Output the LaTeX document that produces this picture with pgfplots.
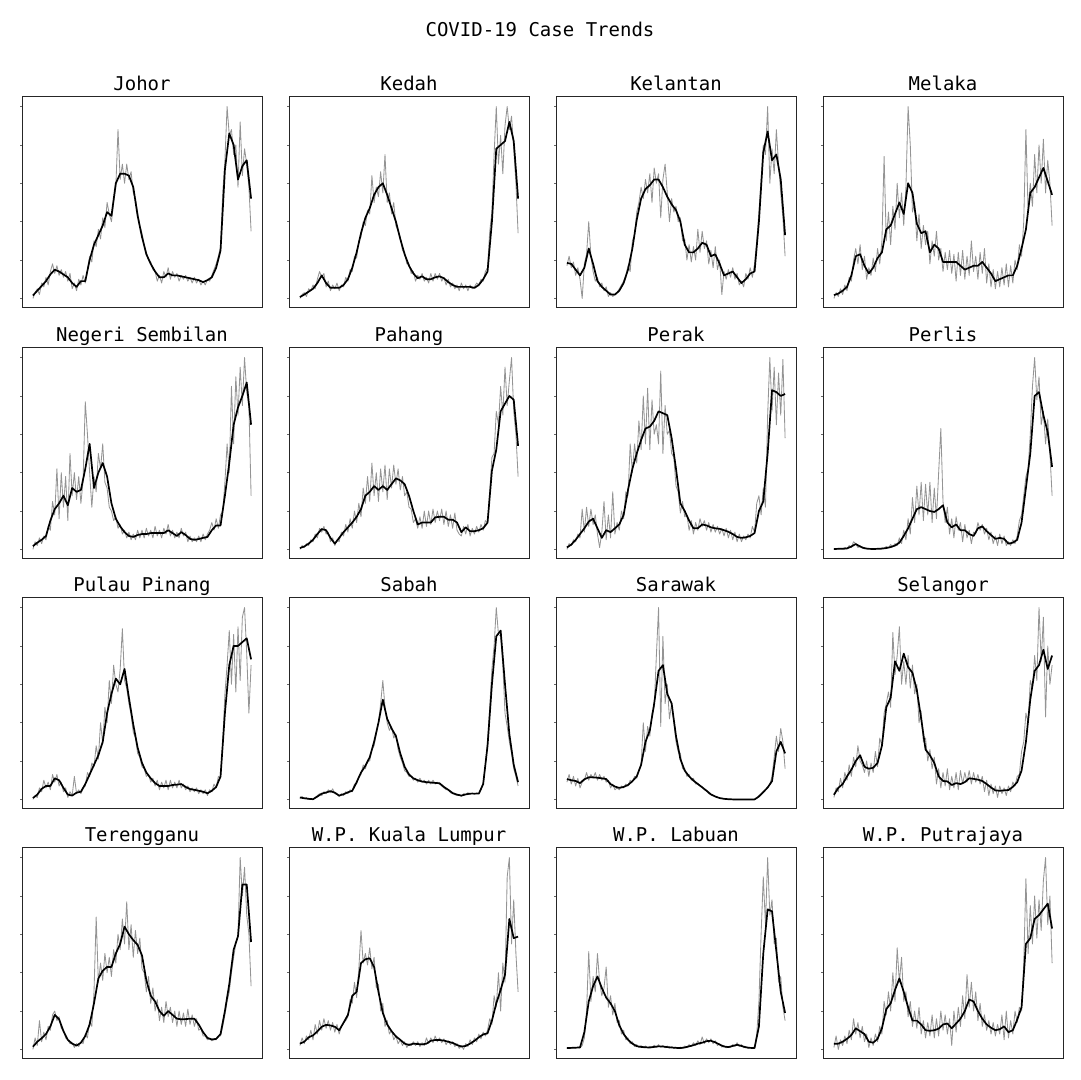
\documentclass[border=0pt]{standalone}
\usepackage{pgfplots}
\pgfplotsset{compat=1.18}
\usepackage{fontspec}
\newfontfamily\mono{DejaVu Sans Mono}
\pgfplotsset{
  panel/.style={scale only axis, width=120pt, height=105.5pt, anchor=south west,
    xmin=-5, xmax=105, ymin=-5, ymax=105, xtick=\empty,
    ytick={0,20,40,60,80,100}, yticklabels={}, ytick pos=left,
    tick align=outside, major tick length=1pt,
    every tick/.style={black!60, line width=0.4pt},
    axis line style={black!85, line width=0.5pt},
    every axis title/.style={at={(0.5,1)}, anchor=base, yshift=3pt, font=\mono\fontsize{9.5}{11}\selectfont}},
  gl/.style={color=black!42, line width=0.42pt, line join=round},
  bl/.style={black, line width=0.85pt, line join=round}
}
\begin{document}
\begin{tikzpicture}
\path[use as bounding box] (0,0) rectangle (540pt,540pt);
\node[anchor=base, font=\mono\fontsize{9.5}{11}\selectfont] at (270pt,521.5pt) {COVID-19 Case Trends};

% Johor
\begin{axis}[panel, at={(11pt,386pt)}, title={Johor}]
\addplot[gl] table[x expr=\coordindex, y index=0, header=false, row sep=\\] {0\\3\\5\\2\\8\\6\\11\\7\\14\\18\\ 13\\17\\12\\15\\11\\14\\9\\13\\5\\8\\ 4\\10\\7\\12\\8\\15\\22\\19\\30\\27\\ 36\\31\\42\\37\\50\\44\\40\\50\\58\\88\\ 62\\70\\60\\70\\62\\66\\55\\52\\45\\38\\ 34\\28\\24\\20\\19\\15\\14\\9\\12\\8\\ 14\\11\\16\\10\\14\\11\\13\\9\\12\\10\\ 12\\9\\11\\8\\11\\8\\10\\7\\9\\7\\ 10\\9\\12\\15\\18\\22\\27\\55\\72\\100\\ 85\\88\\75\\80\\58\\92\\64\\78\\70\\58\\ 35\\};
\addplot[bl] table[x expr=2*\coordindex, y index=0, header=false, row sep=\\] {1.5\\4\\6.5\\9\\12.5\\15\\14\\12.5\\11\\8\\ 6\\9\\9\\20\\28\\33\\38\\45\\43\\60\\ 65\\65\\64\\58\\43\\32\\23\\18\\14\\11\\ 11\\13\\12\\12\\11.5\\11\\10.5\\10\\9.5\\8.5\\ 9.5\\11\\16\\25\\67\\86\\80\\62\\69\\72\\ 52\\};
\end{axis}

% Kedah
\begin{axis}[panel, at={(144.5pt,386pt)}, title={Kedah}]
\addplot[gl] table[x expr=\coordindex, y index=0, header=false, row sep=\\] {0\\2\\3\\1\\5\\4\\7\\5\\10\\14\\ 11\\13\\6\\9\\4\\7\\5\\8\\4\\7\\ 6\\11\\9\\15\\14\\22\\21\\30\\32\\40\\ 38\\46\\44\\64\\50\\58\\53\\66\\55\\75\\ 50\\55\\44\\50\\38\\35\\32\\25\\24\\18\\ 18\\13\\14\\9\\12\\10\\13\\9\\11\\8\\ 13\\9\\13\\10\\13\\9\\11\\7\\10\\6\\ 8\\5\\7\\4\\8\\5\\7\\4\\7\\5\\ 6\\8\\7\\10\\9\\14\\16\\35\\45\\75\\ 100\\70\\85\\65\\90\\100\\88\\95\\78\\60\\ 34\\};
\addplot[bl] table[x expr=2*\coordindex, y index=0, header=false, row sep=\\] {0.7\\2\\3.5\\5\\8\\12\\8\\5.5\\5.5\\5.5\\ 7\\10\\16\\24\\34\\42\\47\\54\\58\\60\\ 54\\47\\40\\31\\23\\17\\13\\10.5\\11.5\\10\\ 10\\11\\11.5\\10.5\\8.5\\7\\6\\6\\6\\6\\ 5.5\\7\\10\\14\\40\\78\\80\\82\\92\\82\\ 52\\};
\end{axis}

% Kelantan
\begin{axis}[panel, at={(278pt,386pt)}, title={Kelantan}]
\addplot[gl] table[x expr=\coordindex, y index=0, header=false, row sep=\\] {17\\22\\16\\19\\12\\16\\10\\0\\18\\23\\ 40\\22\\14\\9\\11\\6\\8\\4\\6\\1\\ 3\\1\\2\\3\\5\\7\\9\\12\\17\\14\\ 30\\33\\45\\50\\58\\52\\62\\55\\65\\50\\ 68\\60\\65\\42\\62\\70\\55\\40\\52\\45\\ 48\\40\\42\\30\\31\\20\\28\\19\\27\\20\\ 36\\24\\35\\26\\30\\18\\25\\16\\27\\15\\ 20\\2\\14\\10\\15\\11\\16\\10\\13\\7\\ 9\\6\\13\\10\\16\\11\\18\\30\\45\\62\\ 80\\75\\100\\60\\78\\65\\88\\70\\55\\42\\ 22\\};
\addplot[bl] table[x expr=2*\coordindex, y index=0, header=false, row sep=\\] {18.5\\18\\15\\12\\16\\26\\18\\9\\6\\4\\ 2\\2\\4\\8\\15\\26\\41\\52\\57\\59\\ 62\\62\\58\\53\\49\\46\\40\\28\\24\\24\\ 26\\29\\28\\22\\23\\18\\12\\13\\14\\11\\ 8\\10\\13\\14\\40\\76\\87\\72\\75\\62\\ 33\\};
\end{axis}

% Melaka
\begin{axis}[panel, at={(411.5pt,386pt)}, title={Melaka}]
\addplot[gl] table[x expr=\coordindex, y index=0, header=false, row sep=\\] {0\\3\\1\\5\\2\\7\\4\\11\\9\\20\\ 26\\18\\28\\15\\22\\10\\16\\12\\21\\14\\ 26\\18\\30\\74\\30\\45\\28\\48\\36\\60\\ 42\\55\\38\\58\\100\\80\\45\\50\\30\\44\\ 26\\38\\28\\35\\18\\30\\22\\35\\20\\26\\ 14\\24\\15\\25\\13\\23\\9\\24\\12\\25\\ 10\\22\\12\\30\\14\\22\\10\\24\\13\\26\\ 8\\18\\6\\15\\5\\14\\6\\16\\7\\18\\ 6\\17\\8\\20\\15\\28\\22\\40\\88\\45\\ 60\\48\\75\\55\\80\\60\\83\\55\\72\\60\\ 38\\};
\addplot[bl] table[x expr=2*\coordindex, y index=0, header=false, row sep=\\] {1.7\\2.5\\4\\6\\12\\22\\23\\17\\13\\16\\ 21\\24\\36\\38\\44\\50\\44\\60\\55\\39\\ 34\\35\\24\\28\\26\\19\\19\\19\\19\\17\\ 15\\16\\17\\17\\19\\16\\13\\9\\10\\11\\ 12\\12\\17\\26\\36\\55\\58\\63\\68\\61\\ 54\\};
\end{axis}

% Negeri Sembilan
\begin{axis}[panel, at={(11pt,260.5pt)}, title={Negeri Sembilan}]
\addplot[gl] table[x expr=\coordindex, y index=0, header=false, row sep=\\] {0\\4\\2\\6\\3\\7\\5\\12\\10\\25\\ 18\\42\\16\\40\\22\\38\\15\\50\\28\\40\\ 26\\38\\24\\36\\77\\60\\40\\22\\38\\30\\ 50\\42\\55\\35\\32\\22\\20\\15\\17\\11\\ 13\\8\\10\\6\\9\\5\\8\\5\\10\\6\\ 10\\6\\11\\7\\10\\6\\12\\7\\10\\6\\ 11\\8\\13\\7\\10\\6\\9\\6\\11\\7\\ 9\\4\\7\\4\\6\\4\\7\\4\\8\\5\\ 8\\10\\14\\10\\16\\11\\18\\20\\35\\55\\ 40\\85\\55\\90\\70\\95\\75\\100\\82\\75\\ 28\\};
\addplot[bl] table[x expr=2*\coordindex, y index=0, header=false, row sep=\\] {1.7\\3.5\\5\\7\\15\\21\\24\\28\\23\\32\\ 30\\31\\42\\55\\32\\40\\45\\38\\24\\16\\ 12\\9\\7\\6.5\\7.5\\8\\8\\8.5\\8.5\\8.5\\ 8.5\\10\\8.5\\7\\9\\7.5\\5.5\\5\\5.4\\6\\ 6.5\\10\\12.5\\12.5\\28\\45\\65\\74\\80\\87\\ 65\\};
\end{axis}

% Pahang
\begin{axis}[panel, at={(144.5pt,260.5pt)}, title={Pahang}]
\addplot[gl] table[x expr=\coordindex, y index=0, header=false, row sep=\\] {0\\2\\1\\3\\2\\5\\4\\8\\6\\11\\ 9\\12\\8\\9\\4\\6\\2\\5\\4\\9\\ 7\\13\\9\\16\\11\\20\\14\\24\\17\\32\\ 24\\38\\25\\45\\28\\40\\25\\42\\30\\44\\ 26\\42\\32\\44\\34\\42\\31\\38\\28\\30\\ 22\\21\\14\\16\\11\\17\\11\\20\\12\\20\\ 13\\21\\14\\20\\15\\21\\13\\20\\12\\18\\ 11\\19\\10\\8\\7\\12\\8\\13\\7\\11\\ 8\\12\\9\\13\\10\\15\\14\\30\\48\\50\\ 72\\65\\85\\70\\95\\75\\88\\100\\72\\60\\ 38\\};
\addplot[bl] table[x expr=2*\coordindex, y index=0, header=false, row sep=\\] {0.7\\1.5\\3\\5\\8\\10.6\\10\\6\\3\\6\\ 9\\11.5\\14\\17\\21\\28\\30\\33\\31\\33\\ 31\\34\\37\\36\\34\\28\\20\\13\\14\\14\\ 14\\16.7\\17\\17\\15.5\\15.5\\14\\9\\11.5\\9.5\\ 9.5\\10\\11\\14\\41\\52\\72\\76\\80\\78\\ 54\\};
\end{axis}

% Perak
\begin{axis}[panel, at={(278pt,260.5pt)}, title={Perak}]
\addplot[gl] table[x expr=\coordindex, y index=0, header=false, row sep=\\] {0\\3\\2\\5\\4\\8\\6\\21\\9\\22\\ 12\\21\\13\\18\\8\\1\\9\\25\\5\\18\\ 6\\30\\8\\14\\10\\20\\16\\30\\28\\55\\ 40\\55\\45\\67\\52\\80\\55\\84\\52\\78\\ 60\\65\\55\\93\\50\\75\\60\\62\\50\\48\\ 33\\30\\19\\25\\17\\18\\10\\15\\8\\14\\ 10\\16\\12\\15\\10\\14\\9\\13\\9\\12\\ 8\\11\\7\\11\\6\\10\\5\\9\\4\\8\\ 4\\7\\5\\8\\6\\12\\9\\24\\28\\18\\ 32\\22\\70\\100\\72\\95\\65\\92\\70\\99\\ 58\\};
\addplot[bl] table[x expr=2*\coordindex, y index=0, header=false, row sep=\\] {1\\2.5\\5\\8\\11\\14.5\\16\\11\\6\\10\\ 9\\11\\13\\18\\31\\42\\50\\57\\63\\64\\ 67\\72\\71\\70\\58\\42\\24\\20\\15\\11\\ 11\\13\\12.5\\11.5\\11\\10.7\\10\\9.2\\8\\6.5\\ 6\\6.3\\7\\8.5\\20\\25\\50\\83\\82\\80\\ 81\\};
\end{axis}

% Perlis
\begin{axis}[panel, at={(411.5pt,260.5pt)}, title={Perlis}]
\addplot[gl] table[x expr=\coordindex, y index=0, header=false, row sep=\\] {0\\0.4\\0.2\\0.5\\0.3\\1\\0.5\\2\\1\\4\\ 3\\1\\2\\0.5\\1\\0.2\\0.5\\0.2\\0.4\\0.2\\ 0.5\\0.3\\0.8\\0.5\\1.5\\0.8\\2.5\\1.5\\3\\2\\ 6\\3\\10\\5\\16\\8\\27\\14\\33\\18\\ 35\\15\\34\\18\\35\\14\\32\\16\\40\\63\\ 25\\14\\22\\8\\16\\6\\17\\10\\14\\4\\ 13\\6\\10\\3\\9\\8\\14\\10\\13\\8\\ 11\\5\\9\\3\\7\\2\\8\\3\\7\\2\\ 4\\2\\5\\3\\7\\15\\18\\28\\38\\42\\ 60\\85\\100\\78\\90\\65\\72\\55\\68\\50\\ 28\\};
\addplot[bl] table[x expr=2*\coordindex, y index=0, header=false, row sep=\\] {0.2\\0.3\\0.3\\0.5\\1.5\\2.8\\1.5\\0.6\\0.3\\0.2\\ 0.3\\0.4\\0.7\\1.2\\2\\3.5\\7\\11\\16\\21\\ 22\\21\\20\\19.5\\21\\23\\14\\11.5\\13\\10\\ 10\\8\\7\\11\\12\\9.5\\7.5\\5.5\\6\\5.5\\ 3\\3.5\\5\\14\\32\\50\\80\\82\\70\\61\\ 43\\};
\end{axis}

% Pulau Pinang
\begin{axis}[panel, at={(11pt,135.5pt)}, title={Pulau Pinang}]
\addplot[gl] table[x expr=\coordindex, y index=0, header=false, row sep=\\] {0\\2\\1\\6\\4\\10\\6\\9\\5\\13\\ 9\\13\\7\\9\\4\\6\\1\\4\\2\\12\\ 3\\5\\3\\6\\7\\14\\12\\19\\17\\28\\ 21\\40\\29\\48\\40\\62\\50\\70\\60\\56\\ 68\\89\\62\\58\\50\\44\\35\\32\\24\\22\\ 17\\16\\12\\13\\9\\11\\7\\10\\5\\9\\ 6\\10\\5\\10\\6\\9\\6\\10\\6\\8\\ 5\\7\\4\\6\\4\\6\\3\\5\\3\\5\\ 2\\5\\4\\8\\6\\12\\11\\30\\55\\70\\ 88\\60\\86\\56\\90\\62\\95\\100\\76\\45\\ 70\\};
\addplot[bl] table[x expr=2*\coordindex, y index=0, header=false, row sep=\\] {0.7\\2.5\\5.5\\7\\7\\11\\10\\6\\2.5\\2\\ 3.5\\4\\8\\13\\18\\23\\30\\45\\55\\63\\ 60\\68\\53\\39\\27\\19\\14\\11\\8.5\\7\\ 7\\7\\7.5\\7.7\\8\\6.5\\5.4\\5\\4.5\\4\\ 3.2\\4.5\\6.5\\12\\45\\70\\80\\80\\82\\84\\ 73\\};
\end{axis}

% Sabah
\begin{axis}[panel, at={(144.5pt,135.5pt)}, title={Sabah}]
\addplot[gl] table[x expr=\coordindex, y index=0, header=false, row sep=\\] {0.5\\1.5\\0.3\\1\\0\\0.5\\0\\1\\2\\3\\ 2\\4\\3\\5\\3.5\\5.5\\3\\2.5\\1.5\\3\\ 2\\4\\3\\5\\4\\8\\8\\12\\13\\18\\ 16\\20\\20\\26\\28\\34\\40\\50\\62\\48\\ 40\\36\\38\\32\\34\\26\\22\\19\\15\\14\\ 12\\12\\10\\11\\9\\11\\9\\10\\8\\10\\ 8\\10\\8\\9\\8\\7\\6\\5\\5\\3.5\\ 3\\2.5\\2\\2.5\\1.5\\3\\2.5\\3.5\\2.5\\3.5\\ 2.5\\3.5\\3\\5\\9\\18\\30\\48\\68\\80\\ 100\\86\\85\\70\\45\\38\\30\\24\\16\\12\\ 7\\};
\addplot[bl] table[x expr=2*\coordindex, y index=0, header=false, row sep=\\] {1\\0.6\\0.3\\0.1\\1.5\\3\\3.6\\4.3\\3.5\\2\\ 2.7\\3.7\\4.5\\9\\14\\17.5\\22\\30\\40\\52\\ 42\\37\\33\\24\\17\\13\\11\\10\\9.3\\9\\ 8.8\\8.6\\8.4\\6.5\\5\\3.3\\2.5\\2\\2.6\\3\\ 3\\3\\8\\28\\60\\85\\88\\60\\34\\18\\ 9\\};
\end{axis}

% Sarawak
\begin{axis}[panel, at={(278pt,135.5pt)}, title={Sarawak}]
\addplot[gl] table[x expr=\coordindex, y index=0, header=false, row sep=\\] {9\\13\\8\\12\\7\\11\\6\\9\\10\\14\\ 10\\13\\11\\14\\10\\13\\10\\12\\9\\10\\ 6\\8\\5\\6\\5\\7\\6\\8\\7\\10\\ 9\\12\\11\\15\\18\\40\\25\\38\\33\\45\\ 48\\75\\100\\38\\85\\50\\60\\42\\50\\40\\ 30\\25\\24\\16\\16\\12\\13\\10\\11\\8\\ 8.5\\7\\6.5\\5\\4.5\\3\\2.8\\2\\1.5\\1\\ 0.8\\0.5\\0.3\\0.2\\0.1\\0\\0\\0\\0\\0\\ 0\\0\\0\\0\\0\\0\\0\\0.5\\2\\2.5\\ 4\\5\\6\\8\\12\\22\\33\\25\\37\\30\\ 16\\};
\addplot[bl] table[x expr=2*\coordindex, y index=0, header=false, row sep=\\] {10.6\\10\\9.6\\8.5\\10.5\\11.5\\11.5\\11.3\\11\\10.6\\ 8\\6.7\\6\\6.5\\7.5\\9.5\\12\\18\\30\\36\\ 50\\67\\70\\55\\50\\33\\21\\15\\12\\9.8\\ 8\\6.3\\4.5\\2.6\\1.5\\0.7\\0.3\\0.1\\0\\0\\ 0\\0\\0\\0\\1.5\\3.8\\6.2\\9.5\\25\\30\\ 24\\};
\end{axis}

% Selangor
\begin{axis}[panel, at={(411.5pt,135.5pt)}, title={Selangor}]
\addplot[gl] table[x expr=\coordindex, y index=0, header=false, row sep=\\] {1\\6\\4\\11\\6\\14\\10\\18\\12\\22\\ 17\\28\\20\\18\\14\\20\\12\\19\\14\\25\\ 17\\32\\28\\45\\50\\56\\48\\87\\65\\75\\ 90\\60\\72\\60\\75\\58\\70\\55\\60\\40\\ 46\\30\\32\\20\\26\\16\\22\\8\\16\\6\\ 14\\7\\16\\5\\12\\6\\14\\5\\15\\8\\ 14\\9\\15\\8\\14\\9\\13\\8\\12\\4\\ 10\\2\\8\\3\\7\\1\\7\\3\\6\\2\\ 7\\4\\9\\7\\12\\13\\25\\30\\45\\40\\ 62\\58\\75\\62\\100\\72\\95\\43\\80\\60\\ 70\\};
\addplot[bl] table[x expr=2*\coordindex, y index=0, header=false, row sep=\\] {2.4\\6\\8\\12\\15.5\\20\\23\\17\\16\\16.5\\ 19\\28\\48\\53\\72\\67\\76\\69\\66\\57\\ 42\\26\\23\\19\\12\\9.6\\9.4\\7.5\\8.5\\8\\ 9\\11\\10.7\\10.3\\9.6\\8\\6.2\\4.7\\4.5\\4.7\\ 4.9\\6.5\\9\\15\\30\\52\\67\\70\\78\\68\\ 75\\};
\end{axis}

% Terengganu
\begin{axis}[panel, at={(11pt,10.5pt)}, title={Terengganu}]
\addplot[gl] table[x expr=\coordindex, y index=0, header=false, row sep=\\] {0\\6\\2\\15\\4\\9\\5\\12\\10\\18\\ 20\\15\\17\\11\\10\\6\\5\\3\\3.5\\1\\ 3\\1.5\\4\\3\\8\\6\\15\\12\\30\\69\\ 35\\45\\36\\50\\40\\48\\38\\52\\45\\60\\ 52\\68\\55\\77\\52\\65\\48\\62\\50\\58\\ 42\\40\\30\\38\\24\\32\\20\\26\\15\\22\\ 14\\25\\17\\22\\14\\20\\12\\20\\13\\19\\ 12\\21\\13\\18\\12\\16\\10\\11\\7\\7\\ 5\\5.5\\4.5\\5\\5\\7\\7\\12\\18\\25\\ 30\\40\\48\\55\\60\\100\\80\\95\\70\\60\\ 33\\};
\addplot[bl] table[x expr=2*\coordindex, y index=0, header=false, row sep=\\] {1.4\\4\\5.8\\8\\12\\18\\15.7\\9.5\\5\\3\\ 2\\3.5\\7\\13\\24\\37\\41\\43\\43\\50\\ 55\\64\\60\\57\\54.5\\49\\36\\28\\25\\20\\ 17.5\\20\\18\\16\\15.7\\15.8\\16\\16\\13\\9\\ 6\\5.2\\5.5\\8\\20\\34\\52\\59\\86\\86\\ 56\\};
\end{axis}

% W.P. Kuala Lumpur
\begin{axis}[panel, at={(144.5pt,10.5pt)}, title={W.P. Kuala Lumpur}]
\addplot[gl] table[x expr=\coordindex, y index=0, header=false, row sep=\\] {2\\6\\3\\7\\5\\10\\5\\13\\8\\15\\ 10\\16\\11\\15\\10\\14\\9\\13\\8\\12\\ 14\\15\\17\\26\\24\\35\\27\\42\\62\\45\\ 50\\44\\53\\42\\48\\32\\34\\20\\24\\12\\ 15\\8\\10\\5\\7\\3\\5\\2\\4\\1\\ 3\\2\\4\\2\\4\\1.5\\3.5\\2\\6\\3\\ 6\\3.5\\7\\4\\6\\3.5\\5.5\\2.5\\4.5\\2.5\\ 4\\1.5\\3\\0.5\\2\\0\\3\\1.5\\5\\2.5\\ 6\\4\\8\\5.5\\9\\7\\10\\16\\13\\28\\ 22\\40\\20\\45\\35\\90\\100\\55\\78\\50\\ 30\\};
\addplot[bl] table[x expr=2*\coordindex, y index=0, header=false, row sep=\\] {3\\4\\6.3\\7.3\\9.4\\11.8\\12.8\\12.5\\11.8\\10\\ 13.9\\18\\28\\30\\45\\47\\47.5\\43\\30\\19\\ 13\\9.5\\6.8\\5\\3\\2.3\\3\\2.8\\2.6\\3\\ 4.5\\4.9\\4.9\\4.6\\4\\3.4\\2.3\\1.5\\1.8\\3\\ 4.5\\6.3\\7.8\\8.4\\15\\24\\31\\39\\68\\58\\ 58.8\\};
\end{axis}

% W.P. Labuan
\begin{axis}[panel, at={(278pt,10.5pt)}, title={W.P. Labuan}]
\addplot[gl] table[x expr=\coordindex, y index=0, header=false, row sep=\\] {0.5\\1\\0.6\\1\\0.8\\1.2\\0.8\\2\\6\\20\\ 51\\25\\38\\30\\50\\35\\28\\32\\43\\22\\ 28\\18\\24\\14\\15\\8\\10\\5\\6\\3\\ 4\\1.5\\2.5\\1\\2\\0.8\\1.8\\0.7\\1.6\\1\\ 2.2\\1\\2.5\\1.2\\2\\0.8\\1.8\\0.6\\1.4\\0.5\\ 1.2\\0.4\\1.2\\0.6\\1.8\\1\\2.5\\1.5\\3.5\\2\\ 4.5\\2.5\\6.5\\3\\5.5\\3.5\\5.5\\3\\4.5\\2\\ 3\\1.2\\2\\0.8\\1.5\\1\\2.5\\1.5\\3.5\\1.5\\ 2.5\\0.8\\1.5\\0.5\\1\\0.5\\1.5\\8\\25\\60\\ 90\\65\\100\\70\\78\\55\\58\\35\\38\\22\\ 15\\};
\addplot[bl] table[x expr=2*\coordindex, y index=0, header=false, row sep=\\] {0.7\\0.8\\0.9\\1\\9\\25\\33\\38\\32\\27\\ 24\\20\\12.5\\8\\5\\3\\1.7\\1.3\\1.1\\1\\ 1.3\\1.6\\1.5\\1.2\\1\\0.8\\0.7\\1\\1.6\\2.2\\ 3\\3.5\\4.3\\4.5\\3.7\\2.5\\1.5\\1.2\\1.8\\2.4\\ 1.8\\1.1\\0.8\\0.7\\12\\50\\73\\72\\51\\30\\ 19\\};
\end{axis}

% W.P. Putrajaya
\begin{axis}[panel, at={(411.5pt,10.5pt)}, title={W.P. Putrajaya}]
\addplot[gl] table[x expr=\coordindex, y index=0, header=false, row sep=\\] {1\\7\\0\\5\\2\\7\\3\\10\\5\\16\\ 8\\14\\6\\12\\4\\8\\1\\6\\2\\8\\ 4\\12\\8\\25\\18\\30\\20\\40\\25\\53\\ 35\\48\\25\\30\\17\\25\\12\\20\\11\\22\\ 8\\15\\6\\14\\7\\18\\6\\16\\7\\20\\ 10\\18\\8\\16\\2\\20\\9\\22\\12\\28\\ 16\\39\\22\\35\\20\\30\\15\\24\\12\\18\\ 10\\15\\8\\14\\7\\13\\8\\18\\5\\20\\ 6\\15\\8\\20\\14\\22\\20\\45\\89\\50\\ 75\\55\\80\\58\\78\\62\\88\\100\\65\\80\\ 45\\};
\addplot[bl] table[x expr=2*\coordindex, y index=0, header=false, row sep=\\] {3\\3\\4\\5.5\\7.5\\11\\9.5\\8\\4\\3.5\\ 5.5\\11\\21\\24\\31\\37\\30\\22\\15\\15\\ 13\\10\\9.7\\10\\10.8\\13\\13.5\\11\\13.5\\16\\ 20\\26\\25\\20\\16\\13\\11.3\\10\\10.5\\12\\ 9\\10\\15.5\\22\\55\\58\\68\\70\\73\\76\\ 63\\};
\end{axis}
\end{tikzpicture}
\end{document}
